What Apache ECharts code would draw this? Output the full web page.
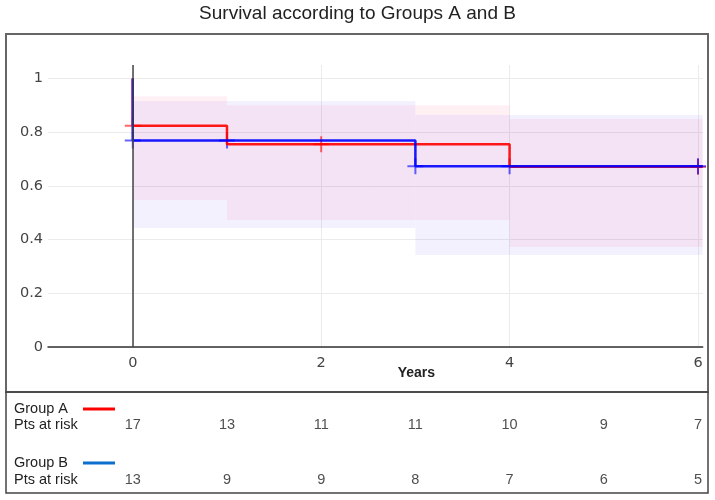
<!DOCTYPE html>
<html>
<head>
<meta charset="utf-8">
<script src="https://cdn.jsdelivr.net/npm/echarts@6/dist/echarts.min.js"></script>
<style>
html, body { margin: 0; padding: 0; background: #fff; }
#main { width: 715px; height: 500px; }
</style>
</head>
<body>
<div id="main"></div>
<script>
// Kaplan-Meier steps
var timesA = [0, 0, 1, 4, 6.05];
var survA = [1, 0.824, 0.755, 0.671, 0.671];
var timesB = [0, 0, 3, 6.05];
var survB = [1, 0.769, 0.673, 0.673];

// censor marks
var censorTimesA = [0, 2, 6];
var censorSurvA = [0.824, 0.755, 0.671];
var censorTimesB = [0, 1, 3, 4, 6];
var censorSurvB = [0.769, 0.769, 0.673, 0.673, 0.673];

// confidence bands per interval
var bandStartA = [0, 1, 4];
var bandEndA = [1, 4, 6.05];
var bandLowA = [0.547, 0.472, 0.372];
var bandHighA = [0.934, 0.9, 0.849];
var bandStartB = [0, 3];
var bandEndB = [3, 6.05];
var bandLowB = [0.443, 0.343];
var bandHighB = [0.916, 0.864];

// patients at risk
var riskTimes = [0, 1, 2, 3, 4, 5, 6];
var riskA = [17, 13, 11, 11, 10, 9, 7];
var riskB = [13, 9, 9, 8, 7, 6, 5];

var xTicks = [0, 2, 4, 6];
var yTicks = [0, 0.2, 0.4, 0.6, 0.8, 1];

function zip(xs, ys) {
  return xs.map(function (x, i) { return [x, ys[i]]; });
}
function bands(s, e, lo, hi) {
  return s.map(function (x, i) { return [x, e[i], lo[i], hi[i]]; });
}
function riskRow(row, vals) {
  return riskTimes.map(function (t, i) { return [t, row, vals[i]]; });
}

function bandItem(params, api) {
  var p0 = api.coord([api.value(0), api.value(3)]);
  var p1 = api.coord([api.value(1), api.value(2)]);
  return {
    type: 'rect',
    shape: { x: p0[0], y: p0[1], width: p1[0] - p0[0], height: p1[1] - p0[1] },
    style: { fill: api.visual('color') }
  };
}

var plus = 'path://M7,0H9V16H7ZM0,7H16V9H0Z';
var font = 'Liberation Sans, Arial, sans-serif';

var myChart = echarts.init(document.getElementById('main'));
var option = {
  animation: false,
  title: {
    text: 'Survival according to Groups A and B',
    left: 'center',
    top: 4,
    padding: 0,
    textStyle: { fontFamily: font, fontSize: 19, fontWeight: 'normal', color: '#222' }
  },
  grid: [
    { left: 48, right: 12.3, top: 65, bottom: 153 },
    { left: 48, right: 12.3, top: 370, bottom: 20 }
  ],
  xAxis: [{
    type: 'value', gridIndex: 0, min: -0.9, max: 6.05,
    name: 'Years', nameLocation: 'middle', nameGap: 19, nameMoveOverlap: false,
    nameTextStyle: { fontFamily: font, fontSize: 14, fontWeight: 'bold', color: '#222', padding: [0, 0, 0, 82] },
    axisLine: { onZero: false, lineStyle: { color: '#333', width: 1.5 } },
    axisTick: { show: false, customValues: xTicks },
    axisLabel: { customValues: xTicks, margin: 9, fontFamily: 'DejaVu Sans', fontSize: 14.5, color: '#444' },
    splitLine: { show: true, lineStyle: { color: '#ebebeb', width: 1 } }
  }, {
    type: 'value', gridIndex: 1, min: -0.9, max: 6.05, show: false
  }],
  yAxis: [{
    type: 'value', gridIndex: 0, min: 0, max: 1.05,
    axisLine: { show: false },
    axisTick: { show: false, customValues: yTicks },
    axisLabel: { customValues: yTicks, margin: 5, fontFamily: 'DejaVu Sans', fontSize: 14.5, color: '#444' },
    splitLine: { show: true, lineStyle: { color: '#ebebeb', width: 1 } }
  }, {
    type: 'value', gridIndex: 1, min: 0, max: 2, inverse: true, show: false
  }],
  series: [
    {
      name: 'Group A band', type: 'custom', renderItem: bandItem,
      itemStyle: { color: 'rgba(255,0,60,0.06)' },
      encode: { x: [0, 1], y: [2, 3] },
      data: bands(bandStartA, bandEndA, bandLowA, bandHighA)
    },
    {
      name: 'Group B band', type: 'custom', renderItem: bandItem,
      itemStyle: { color: 'rgba(60,0,255,0.055)' },
      encode: { x: [0, 1], y: [2, 3] },
      data: bands(bandStartB, bandEndB, bandLowB, bandHighB)
    },
    {
      name: 'Group A', type: 'line', step: 'end', showSymbol: false,
      lineStyle: { color: '#ff0000', width: 2.5, opacity: 0.9 },
      itemStyle: { color: '#ff0000' },
      data: zip(timesA, survA),
      markLine: {
        silent: true, symbol: 'none', label: { show: false },
        lineStyle: { color: '#444', width: 1.5, type: 'solid' },
        data: [{ xAxis: 0 }]
      }
    },
    {
      name: 'Group B', type: 'line', step: 'end', showSymbol: false,
      lineStyle: { color: '#0000ff', width: 2.5, opacity: 0.9 },
      itemStyle: { color: '#0000ff' },
      data: zip(timesB, survB)
    },
    {
      name: 'Censored A', type: 'scatter', symbol: plus, symbolSize: 16,
      itemStyle: { color: '#ff0000', opacity: 0.6 },
      data: zip(censorTimesA, censorSurvA)
    },
    {
      name: 'Censored B', type: 'scatter', symbol: plus, symbolSize: 16,
      itemStyle: { color: '#0000ff', opacity: 0.6 },
      data: zip(censorTimesB, censorSurvB)
    },
    {
      name: 'At risk', type: 'scatter', xAxisIndex: 1, yAxisIndex: 1,
      symbolSize: 1, itemStyle: { color: 'rgba(0,0,0,0)' },
      label: {
        show: true, position: 'inside',
        fontFamily: font, fontSize: 14.5, color: '#222',
        formatter: function (p) { return p.value[2]; }
      },
      data: riskRow(1, riskA).concat(riskRow(2, riskB))
    }
  ],
  graphic: [
    { type: 'rect', shape: { x: 6, y: 34, width: 702, height: 358 }, style: { fill: 'none', stroke: '#666', lineWidth: 2 } },
    { type: 'rect', shape: { x: 6, y: 392, width: 702, height: 101 }, style: { fill: 'none', stroke: '#444', lineWidth: 1.5 } },
    { type: 'text', x: 14, y: 409, style: { text: 'Group A', font: '14.5px ' + font, fill: '#222', verticalAlign: 'middle' } },
    { type: 'text', x: 14, y: 425, style: { text: 'Pts at risk', font: '14.5px ' + font, fill: '#222', verticalAlign: 'middle' } },
    { type: 'text', x: 14, y: 463, style: { text: 'Group B', font: '14.5px ' + font, fill: '#222', verticalAlign: 'middle' } },
    { type: 'text', x: 14, y: 480, style: { text: 'Pts at risk', font: '14.5px ' + font, fill: '#222', verticalAlign: 'middle' } },
    { type: 'line', shape: { x1: 83, y1: 409, x2: 115, y2: 409 }, style: { stroke: '#ff0000', lineWidth: 3 } },
    { type: 'line', shape: { x1: 83, y1: 463, x2: 115, y2: 463 }, style: { stroke: '#0a6fcd', lineWidth: 3 } }
  ]
};
myChart.setOption(option);
</script>
</body>
</html>
